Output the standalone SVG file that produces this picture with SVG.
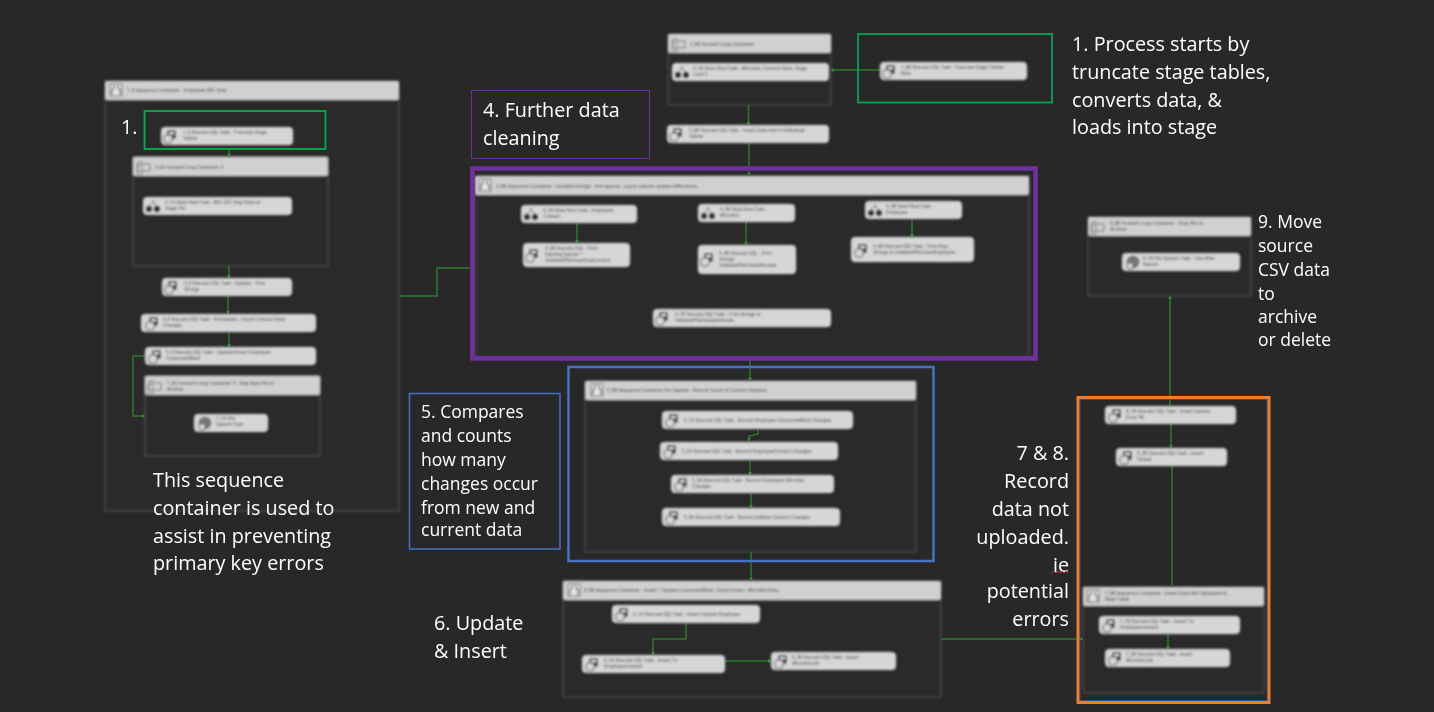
<svg xmlns="http://www.w3.org/2000/svg" width="1434" height="712" viewBox="0 0 1434 712">
<style>
text{font-family:"Open Sans","Noto Sans","Liberation Sans",sans-serif}
.bg{fill:#282828}
.task{fill:#d6d6d8;stroke:#8a8a8a;stroke-width:.8}
.head{fill:#d0d0d0;stroke:#777;stroke-width:.6}
.body{fill:#292929;stroke:#484848;stroke-width:1.500}
.nl{font-size:4.600px;fill:#5a5a5a;font-weight:600}
.c{fill:none;stroke:#2c7a2c;stroke-width:1.500}
.a{fill:#2f8f2f}
.t{fill:#fff;font-size:19.800px}
.s{fill:#fff;font-size:17.500px}
</style>
<defs>
<filter id="bl" filterUnits="userSpaceOnUse" x="0" y="0" width="1434" height="712"><feGaussianBlur stdDeviation=".95"/></filter>
<filter id="bc" filterUnits="userSpaceOnUse" x="0" y="0" width="1434" height="712"><feGaussianBlur stdDeviation=".45"/></filter>
<g id="ti"><rect x="4" y="1" width="9" height="9" rx="1.500" fill="#555"/><rect x="6" y="3" width="5" height="2" fill="#ddd"/><rect x="1" y="6" width="8" height="8" rx="2" fill="#d6d6d8" stroke="#666"/></g>
<g id="di"><circle cx="4" cy="10" r="3.200" fill="#333"/><circle cx="12" cy="10" r="3.200" fill="#333"/><path d="M4 7L8 3L12 7M8 3V1" fill="none" stroke="#555"/></g>
<g id="fi"><circle cx="8" cy="7" r="6.500" fill="#777"/><rect x="2" y="8" width="6" height="6" rx="1.500" fill="#d6d6d8" stroke="#666"/></g>
<g id="si"><rect x="1" y="0" width="12" height="12" fill="#e4e4e4" stroke="#777"/><path d="M5 1V5H3V11M9 1V5H11V11" fill="none" stroke="#555"/></g>
<g id="li"><path d="M1 2H5V4H13V11H1Z" fill="none" stroke="#777"/><rect x="0" y="5" width="5" height="9" fill="none" stroke="#888"/></g>
<path id="ah" d="M-2 -3H2L0 0Z"/>
</defs>
<rect class="bg" width="1434" height="712"/>

<g id="containers" filter="url(#bl)">
<g id="c-left"><rect class="body" x="105" y="81" width="294" height="430"/><rect class="head" x="105" y="81" width="294" height="19" rx="2"/><use href="#si" x="109" y="84"/><text class="nl" x="127" y="92">1_0 Sequence Container - Employee BPL Only</text></g>
<g id="c-loop2"><rect class="body" x="133" y="157" width="195" height="109"/><rect class="head" x="133" y="157" width="195" height="19" rx="2"/><use href="#li" x="137" y="160"/><text class="nl" x="155" y="169">2_0A Foreach Loop Container 2</text></g>
<g id="c-loop3"><rect class="body" x="145" y="376" width="175" height="80"/><rect class="head" x="145" y="376" width="175" height="19" rx="2"/><use href="#li" x="148" y="379"/><text class="nl" x="167" y="385">7_0A Foreach Loop Container 3 - Stop Raw File to</text><text class="nl" x="167" y="391">Archive</text></g>
<g id="c-top"><rect class="body" x="668" y="34" width="163" height="71"/><rect class="head" x="668" y="34" width="163" height="19" rx="2"/><use href="#li" x="672" y="37"/><text class="nl" x="690" y="46">2_0B Foreach Loop Container</text></g>
<g id="c-clean"><rect class="body" x="475" y="176" width="554" height="181"/><rect class="head" x="475" y="176" width="554" height="19" rx="2"/><use href="#si" x="478" y="179"/><text class="nl" x="496" y="188">4_0B Sequence Container - Variable Strings - trim spaces - count column update differences</text></g>
<g id="c-pre"><rect class="body" x="585" y="381" width="331" height="171"/><rect class="head" x="585" y="381" width="331" height="19" rx="2"/><use href="#si" x="590" y="384"/><text class="nl" x="607" y="392">5_0B Sequence Container Pre Update - Record Count of Column Updates</text></g>
<g id="c-insert"><rect class="body" x="563" y="581" width="378" height="116"/><rect class="head" x="563" y="581" width="378" height="19" rx="2"/><use href="#si" x="567" y="584"/><text class="nl" x="584" y="592">6_0B Sequence Container - Insert + Update CorporateBlind - EmpContact - Microbiz Data</text></g>
<g id="c-notup"><rect class="body" x="1083" y="587" width="181" height="106"/><rect class="head" x="1083" y="587" width="181" height="19" rx="2"/><use href="#si" x="1086" y="590"/><text class="nl" x="1105" y="595">7_0B Sequence Container - Insert Data Not Uploaded to</text><text class="nl" x="1105" y="601">Main Table</text></g>
<g id="c-archive"><rect class="body" x="1088" y="217" width="163" height="79"/><rect class="head" x="1088" y="217" width="163" height="19" rx="2"/><use href="#li" x="1091" y="220"/><text class="nl" x="1110" y="225">9_0B Foreach Loop Container - Stop File to</text><text class="nl" x="1110" y="231">Archive</text></g>
</g>

<g id="connectors" filter="url(#bc)">
<path class="c" d="M229 149V157M229 266V278M228 296V314M229 332V347M145 356H133V416H145"/>
<path class="c" d="M399 296H437V268H471"/>
<path class="c" d="M880 70H831M748.500 105V125M749 143V176"/>
<path class="c" d="M577 223V243M746 222V245M912 219V237"/>
<path class="c" d="M750 360V381M758 430V434L749 436V441M750 460V475M751 493V508M751 552V581"/>
<path class="c" d="M686 623V639H653V655M725 661H771M941 639H1083"/>
<path class="c" d="M1170 296V406M1171 424V448M1172 466V587M1168 634V649"/>
<g class="a">
<use href="#ah" x="229" y="157"/><use href="#ah" x="229" y="278"/><use href="#ah" x="228" y="314"/><use href="#ah" x="229" y="347"/>
<use href="#ah" transform="translate(145 416) rotate(-90)"/>
<use href="#ah" transform="translate(831 70) rotate(90)"/>
<use href="#ah" x="748.500" y="125"/><use href="#ah" x="749" y="176"/>
<use href="#ah" x="577" y="243"/><use href="#ah" x="746" y="245"/><use href="#ah" x="912" y="237"/>
<use href="#ah" x="750" y="381"/><use href="#ah" x="749" y="441"/><use href="#ah" x="750" y="475"/><use href="#ah" x="751" y="508"/><use href="#ah" x="751" y="581"/>
<use href="#ah" x="653" y="655"/><use href="#ah" transform="translate(771 661) rotate(-90)"/><use href="#ah" transform="translate(1083 639) rotate(-90)"/>
<use href="#ah" transform="translate(1170 296) rotate(180)"/><use href="#ah" x="1171" y="424"/><use href="#ah" x="1171" y="448"/><use href="#ah" x="1172" y="466"/><use href="#ah" x="1168" y="649"/>
</g>
</g>

<g id="tasks" filter="url(#bl)">
<g id="n-trunc1"><rect class="task" x="161" y="127" width="132" height="18" rx="4"/><use href="#ti" x="163" y="129"/><text class="nl" x="183" y="134">1_0 Execute SQL Task - Truncate Stage</text><text class="nl" x="183" y="140">Tables</text></g>
<g id="n-df1"><rect class="task" x="143" y="197" width="149" height="18" rx="4"/><use href="#di" x="145" y="199"/><text class="nl" x="165" y="204">2_1A Data Flow Task - BPL SOT Stop Data to</text><text class="nl" x="165" y="210">Stage Tbl</text></g>
<g id="n-upd"><rect class="task" x="162" y="278" width="130" height="18" rx="4"/><use href="#ti" x="164" y="280"/><text class="nl" x="184" y="285">3_0 Execute SQL Task - Update - Trim</text><text class="nl" x="184" y="291">Strings</text></g>
<g id="n-post"><rect class="task" x="141" y="314" width="175" height="18" rx="4"/><use href="#ti" x="145" y="316"/><text class="nl" x="163" y="321">4_0 Execute SQL Task - PreUpdate - Count Column Data</text><text class="nl" x="163" y="327">Changes</text></g>
<g id="n-corp"><rect class="task" x="145" y="347" width="171" height="18" rx="4"/><use href="#ti" x="148" y="349"/><text class="nl" x="166" y="354">5_0 Execute SQL Task - Update/Insert Employee</text><text class="nl" x="166" y="360">CorporateBlind</text></g>
<g id="n-fs1"><rect class="task" x="194" y="414" width="74" height="18" rx="4"/><use href="#fi" x="197" y="416"/><text class="nl" x="216" y="420">7_1A File</text><text class="nl" x="216" y="426">System Task</text></g>

<g id="n-df-top"><rect class="task" x="672" y="63" width="157" height="18" rx="4"/><use href="#di" x="674" y="65"/><text class="nl" x="693" y="70">2_1B Data Flow Task - Microbiz, Convert Data, Stage</text><text class="nl" x="693" y="76">Load 3</text></g>
<g id="n-trunc2"><rect class="task" x="880" y="62" width="147" height="18" rx="4"/><use href="#ti" x="882" y="64"/><text class="nl" x="901" y="69">1_0B Execute SQL Task - Truncate Stage Tables -</text><text class="nl" x="901" y="75">New</text></g>
<g id="n-ins-top"><rect class="task" x="667" y="125" width="162" height="18" rx="4"/><use href="#ti" x="669" y="127"/><text class="nl" x="689" y="132">3_0B Execute SQL Task - Insert Data into 4 Individual</text><text class="nl" x="689" y="138">Tables</text></g>

<g id="n-c1"><rect class="task" x="521" y="205" width="116" height="18" rx="4"/><use href="#di" x="523" y="207"/><text class="nl" x="543" y="212">4_1B Data Flow Task - Employee</text><text class="nl" x="543" y="218">Contact</text></g>
<g id="n-c2"><rect class="task" x="523" y="243" width="107" height="24" rx="4"/><use href="#ti" x="525" y="248"/><text class="nl" x="545" y="250">4_2B Execute SQL - Trim</text><text class="nl" x="545" y="256">Existing Spaces +</text><text class="nl" x="545" y="262">ValidatePKsCleanEmpContact</text></g>
<g id="n-c3"><rect class="task" x="698" y="204" width="97" height="18" rx="4"/><use href="#di" x="700" y="206"/><text class="nl" x="720" y="211">4_3B Data Flow Task -</text><text class="nl" x="720" y="217">Microbiz</text></g>
<g id="n-c4"><rect class="task" x="698" y="245" width="98" height="29" rx="4"/><use href="#ti" x="700" y="252"/><text class="nl" x="719" y="255">4_4B Execute SQL - Trim</text><text class="nl" x="719" y="261">Strings</text><text class="nl" x="719" y="267">ValidatePKsCleanMicrobiz</text></g>
<g id="n-c5"><rect class="task" x="865" y="201" width="97" height="18" rx="4"/><use href="#di" x="867" y="203"/><text class="nl" x="886" y="208">4_5B Data Flow Task -</text><text class="nl" x="886" y="214">Employee</text></g>
<g id="n-c6"><rect class="task" x="851" y="237" width="123" height="25" rx="4"/><use href="#ti" x="854" y="243"/><text class="nl" x="873" y="248">4_6B Execute SQL Task - Trim Emp</text><text class="nl" x="873" y="254">Strings in ValidatePKsCleanEmployee</text></g>
<g id="n-c7"><rect class="task" x="653" y="309" width="178" height="18" rx="4"/><use href="#ti" x="655" y="311"/><text class="nl" x="675" y="316">4_7B Execute SQL Task - Trim Strings in</text><text class="nl" x="675" y="322">ValidatePKsCleanJobGrade</text></g>

<g id="n-p1"><rect class="task" x="662" y="411" width="191" height="18" rx="4"/><use href="#ti" x="665" y="413"/><text class="nl" x="684" y="422">5_1A Execute SQL Task - Record Employee CorporateBlind Changes</text></g>
<g id="n-p2"><rect class="task" x="660" y="442" width="178" height="18" rx="4"/><use href="#ti" x="663" y="444"/><text class="nl" x="682" y="453">5_2A Execute SQL Task - Record EmployeeContact Changes</text></g>
<g id="n-p3"><rect class="task" x="671" y="475" width="163" height="18" rx="4"/><use href="#ti" x="674" y="477"/><text class="nl" x="692" y="482">5_3A Execute SQL Task - Record Employee Microbiz</text><text class="nl" x="692" y="488">Changes</text></g>
<g id="n-p4"><rect class="task" x="662" y="508" width="178" height="18" rx="4"/><use href="#ti" x="665" y="510"/><text class="nl" x="684" y="519">5_4A Execute SQL Task - Record JobRole Column Changes</text></g>

<g id="n-i1"><rect class="task" x="612" y="605" width="148" height="18" rx="4"/><use href="#ti" x="615" y="607"/><text class="nl" x="633" y="616">6_1A Execute SQL Task - Insert Update Employee</text></g>
<g id="n-i2"><rect class="task" x="582" y="655" width="143" height="18" rx="4"/><use href="#ti" x="585" y="657"/><text class="nl" x="604" y="662">6_2A Execute SQL Task - Insert To</text><text class="nl" x="604" y="668">EmployeeContact</text></g>
<g id="n-i3"><rect class="task" x="771" y="652" width="125" height="18" rx="4"/><use href="#ti" x="774" y="654"/><text class="nl" x="792" y="659">6_3B Execute SQL Task - Insert</text><text class="nl" x="792" y="665">Microbiz Job</text></g>

<g id="n-o1"><rect class="task" x="1105" y="406" width="131" height="18" rx="4"/><use href="#ti" x="1108" y="408"/><text class="nl" x="1126" y="413">8_1B Execute SQL Task - Insert Update</text><text class="nl" x="1126" y="419">Error PK</text></g>
<g id="n-o2"><rect class="task" x="1116" y="448" width="111" height="18" rx="4"/><use href="#ti" x="1119" y="450"/><text class="nl" x="1137" y="455">8_2B Execute SQL Task - Insert</text><text class="nl" x="1137" y="461">Values</text></g>
<g id="n-o3"><rect class="task" x="1099" y="616" width="141" height="18" rx="4"/><use href="#ti" x="1102" y="618"/><text class="nl" x="1120" y="623">7_1B Execute SQL Task - Insert To</text><text class="nl" x="1120" y="629">EmployeeContact</text></g>
<g id="n-o4"><rect class="task" x="1105" y="649" width="125" height="18" rx="4"/><use href="#ti" x="1108" y="651"/><text class="nl" x="1126" y="656">7_2B Execute SQL Task - Insert</text><text class="nl" x="1126" y="662">Microbiz Job</text></g>
<g id="n-fs2"><rect class="task" x="1122" y="253" width="118" height="18" rx="4"/><use href="#fi" x="1125" y="255"/><text class="nl" x="1143" y="260">9_1B File System Task - Use After</text><text class="nl" x="1143" y="266">Report</text></g>
</g>

<g id="highlights" fill="none">
<rect x="144.500" y="111" width="181" height="38" stroke="#00b050" stroke-width="1.800"/>
<rect x="858" y="34" width="194" height="68.500" stroke="#00a65a" stroke-width="1.800"/>
<rect x="472.500" y="168.500" width="563" height="190" stroke="#7030a0" stroke-width="4.500"/>
<rect x="471.500" y="90.500" width="178" height="68" stroke="#7030a0" stroke-width="1"/>
<rect x="568.500" y="367" width="365" height="194" stroke="#4472c4" stroke-width="2.500"/>
<rect x="409.500" y="393.500" width="150.500" height="155.500" stroke="#4472c4" stroke-width="1.500"/>
<rect x="1080" y="399.500" width="187" height="301" stroke="#2f4f8f" stroke-width="1"/>
<rect x="1078" y="397.500" width="191" height="305" stroke="#ed7d31" stroke-width="3"/>
</g>

<g id="notes">
<text class="t" x="121" y="134">1.</text>
<text class="t" x="153" y="487">This sequence</text>
<text class="t" x="153" y="515">container is used to</text>
<text class="t" x="153" y="543">assist in preventing</text>
<text class="t" x="153" y="570">primary key errors</text>
<text class="t" x="483" y="117">4. Further data</text>
<text class="t" x="483" y="145">cleaning</text>
<text class="t" x="1072" y="51">1. Process starts by</text>
<text class="t" x="1072" y="79">truncate stage tables,</text>
<text class="t" x="1072" y="107">converts data, &amp;</text>
<text class="t" x="1072" y="134">loads into stage</text>
<text class="s" x="421" y="418">5. Compares</text>
<text class="s" x="421" y="442">and counts</text>
<text class="s" x="421" y="466">how many</text>
<text class="s" x="421" y="490">changes occur</text>
<text class="s" x="421" y="514">from new and</text>
<text class="s" x="421" y="536">current data</text>
<text class="t" x="434" y="630">6. Update</text>
<text class="t" x="434" y="658">&amp; Insert</text>
<g text-anchor="end">
<text class="t" x="1069" y="460">7 &amp; 8.</text>
<text class="t" x="1069" y="488">Record</text>
<text class="t" x="1069" y="516">data not</text>
<text class="t" x="1069" y="544">uploaded.</text>
<text class="t" x="1069" y="572">ie</text>
<text class="t" x="1069" y="598">potential</text>
<text class="t" x="1069" y="626">errors</text>
</g>
<path d="M1052 573l2-2 2 2 2-2 2 2 2-2 2 2 2-2 2 2" fill="none" stroke="#e03030" stroke-width="1"/>
<text class="s" x="1258" y="228">9. Move</text>
<text class="s" x="1258" y="252">source</text>
<text class="s" x="1258" y="276">CSV data</text>
<text class="s" x="1258" y="300">to</text>
<text class="s" x="1258" y="323">archive</text>
<text class="s" x="1258" y="346">or delete</text>
</g>
</svg>
